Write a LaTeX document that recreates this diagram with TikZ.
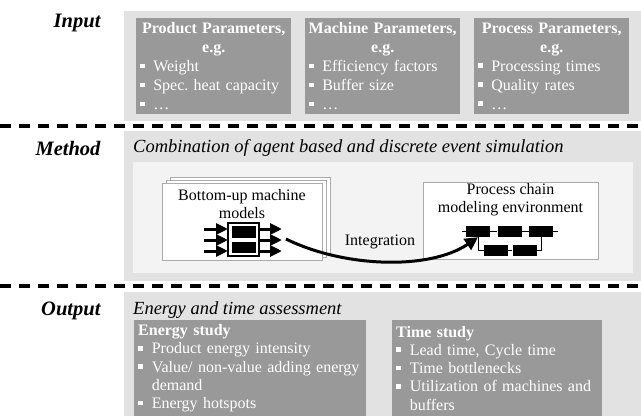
\documentclass[tikz,border=0pt]{standalone}
\usepackage{fontspec}
\setmainfont{Liberation Serif}
\usetikzlibrary{arrows.meta, positioning}

\definecolor{bandgray}{HTML}{E2E2E2}
\definecolor{boxgray}{HTML}{999999}
\definecolor{panelgray}{HTML}{F3F3F3}
\definecolor{edgegray}{HTML}{ABABAB}

\frenchspacing
\newcommand{\bul}{\makebox[0.85em][l]{\raisebox{0.2em}{\rule{0.3em}{0.3em}}}}
\newcommand{\cont}{\hspace*{0.85em}}

\tikzset{
  rowlabel/.style={anchor=east, font=\fontsize{20.5}{22}\selectfont\bfseries\itshape},
  subtitle/.style={anchor=west, inner sep=0pt, font=\fontsize{18.5}{20}\selectfont\itshape},
  parbox/.style={anchor=north west, fill=boxgray, text=white, inner xsep=3.5pt, inner ysep=0pt,
    text width=148pt, minimum height=96pt, align=left, font=\fontsize{16}{19}\selectfont},
  resbox/.style={anchor=north west, fill=boxgray, text=white, inner xsep=4pt, inner ysep=0pt,
    align=left, font=\fontsize{16}{18.3}\selectfont},
  modbox/.style={draw=edgegray, fill=white, line width=1pt, inner sep=0pt},
  blk/.style={fill=black, minimum width=24pt, minimum height=11pt, inner sep=0pt},
  fatarrow/.style={line width=3pt, -{Triangle[length=12pt, width=11pt]}},
  sepline/.style={line width=3.5pt, dash pattern=on 11pt off 8pt},
}

\begin{document}
\begin{tikzpicture}[x=1pt, y=-1pt, font=\fontsize{16}{18}\selectfont]
  \useasboundingbox (0,0) rectangle (641,416);

  % Bands
  \fill[bandgray] (124,11) rectangle (641,121);
  \fill[bandgray] (124,131) rectangle (641,281);
  \fill[bandgray] (124,292) rectangle (641,416);

  % Separators
  \draw[sepline] (0,126) -- (641,126);
  \draw[sepline] (0,286) -- (641,286);

  % Row labels
  \node[rowlabel] (lin) at (104,23) {Input};
  \node[rowlabel] (lmeth) at (104,148) {Method};
  \node[rowlabel] (lout) at (104,311) {Output};

  % Input
  \node[parbox] (prodpar) at (136,18) {{\centering\bfseries Product Parameters,\\ e.g.\par}
    \bul Weight\\ \bul Spec. heat capacity\\ \bul\dots};
  \node[parbox] (machpar) at (305,18) {{\centering\bfseries Machine Parameters,\\ e.g.\par}
    \bul Efficiency factors\\ \bul Buffer size\\ \bul\dots};
  \node[parbox] (procpar) at (474,18) {{\centering\bfseries Process Parameters,\\ e.g.\par}
    \bul Processing times\\ \bul Quality rates\\ \bul\dots};

  % Method
  \node[subtitle] (combi) at (133,148) {Combination of agent based and discrete event simulation};
  \fill[panelgray] (133,162) rectangle (633,273);

  \draw[modbox] (170,177) rectangle (330,254);
  \draw[modbox] (166,180) rectangle (326,257);
  \node[modbox, minimum width=160pt, minimum height=77pt] (bumod) at (242,221.5) {};
  \node[align=center] (butxt) at (242,204) {Bottom-up machine\\ models};

  \node[draw, fill=white, line width=1.2pt, minimum width=31pt, minimum height=33pt, inner sep=0pt] (machicon) at (243.5,239.5) {};
  \node[blk, minimum width=24pt, minimum height=12pt] (mA) at (244,232) {};
  \node[blk, minimum width=24pt, minimum height=11pt] (mB) at (244,247.5) {};
  \foreach \yy in {229,240,251} {
    \draw[fatarrow] (204,\yy) -- (228,\yy);
    \draw[fatarrow] (259,\yy) -- (282,\yy);
  }

  \node[modbox, minimum width=175pt, minimum height=77pt] (pcenv) at (510.5,220.5) {};
  \node[align=center] (pctxt) at (510.5,199.5) {Process chain\\ modeling environment};

  \node[blk] (blk1) at (478,231.5) {};
  \node[blk] (blk2) at (509.5,231.5) {};
  \node[blk] (blk3) at (541,231.5) {};
  \node[blk] (blk4) at (496,250) {};
  \node[blk] (blk5) at (524.5,250) {};
  \coordinate (chl) at (462,231.5);
  \coordinate (chr) at (558,231.5);
  \draw (chl) -- (blk1) -- (blk2) -- (blk3) -- (chr);
  \draw (blk1.south) |- (blk4.west);
  \draw (blk4) -- (blk5);
  \draw (blk5.east) -| (blk3.south);

  \node (integ) at (380,242) {Integration};
  \coordinate (intstart) at (286,239);
  \draw[line width=3pt, -{Triangle[length=13pt, width=13pt]}]
    (intstart) .. controls (345,268) and (430,270) .. (blk1.south);

  % Output
  \node[subtitle] (assess) at (133,310) {Energy and time assessment};
  \node[resbox, text width=224pt, minimum height=96pt] (enstudy) at (134,320) {\textbf{Energy study}\\
    \bul Product energy intensity\\ \bul Value/ non-value adding energy\\ \cont demand\\ \bul Energy hotspots};
  \node[resbox, text width=202pt, minimum height=96pt] (tistudy) at (392,320) {\textbf{Time study}\\
    \bul Lead time, Cycle time\\ \bul Time bottlenecks\\ \bul Utilization of machines and\\ \cont buffers};
\end{tikzpicture}
\end{document}
